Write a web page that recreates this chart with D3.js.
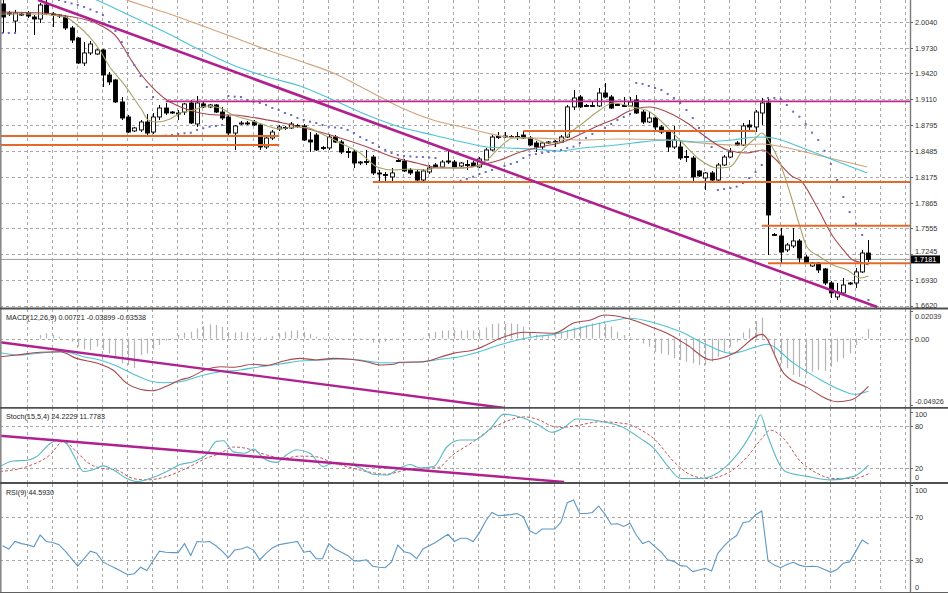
<!DOCTYPE html>
<html><head><meta charset="utf-8">
<script src="https://cdn.jsdelivr.net/npm/d3@7"></script>
<style>body{margin:0;background:#fff}svg{display:block}text{font-family:"Liberation Sans",Arial,sans-serif}</style>
</head><body><svg id="c" width="948" height="593"></svg>
<script>
// ---------- DATA ----------
const opens=[2.0257,2.0148,2.0052,2.0136,2.0148,2.0100,2.0076,2.0245,2.0136,2.0124,
2.0100,1.9968,1.9847,1.9546,1.9667,1.9655,1.9703,1.9402,1.9342,1.9077,
1.8896,1.8728,1.8740,1.8836,1.8715,1.8896,1.9004,1.8956,1.8944,1.8956,
1.9065,1.8812,1.9053,1.9017,1.9041,1.8956,1.8896,1.8703,1.8818,1.8824,
1.8836,1.8800,1.8535,1.8643,1.8752,1.8770,1.8764,1.8794,1.8788,1.8619,
1.8679,1.8529,1.8523,1.8655,1.8595,1.8481,1.8475,1.8342,1.8360,1.8414,
1.8222,1.8204,1.8174,1.8372,1.8366,1.8258,1.8234,1.8137,1.8234,1.8318,
1.8294,1.8366,1.8354,1.8306,1.8324,1.8342,1.8294,1.8378,1.8499,1.8655,
1.8667,1.8661,1.8655,1.8679,1.8643,1.8583,1.8535,1.8589,1.8595,1.8595,
1.8655,1.9017,1.9137,1.9035,1.9029,1.9029,1.9185,1.9137,1.9047,1.9035,
1.9029,1.9101,1.8956,1.8836,1.8884,1.8776,1.8715,1.8535,1.8535,1.8420,
1.8402,1.8246,1.8161,1.8222,1.8137,1.8318,1.8414,1.8583,1.8559,1.8800,
1.8776,1.8944,1.9065,1.7481,1.7463,1.7295,1.7343,1.7403,1.7210,1.7102,
1.7138,1.7066,1.6897,1.6729,1.6777,1.6891,1.6897,1.7030,1.7258];
const highs=[2.0305,2.0173,2.0185,2.0161,2.0173,2.0124,2.0269,2.0305,2.0161,2.0136,
2.0124,1.9992,1.9859,1.9799,1.9811,1.9715,1.9715,1.9438,1.9354,1.9137,
1.8920,1.8776,1.8860,1.8932,1.8944,1.9041,1.9065,1.8968,1.8980,1.9065,
1.9101,1.9149,1.9077,1.9053,1.9053,1.9017,1.8920,1.8800,1.8848,1.8848,
1.8860,1.8824,1.8667,1.8740,1.8800,1.8788,1.8836,1.8812,1.8812,1.8715,
1.8703,1.8547,1.8691,1.8679,1.8619,1.8523,1.8499,1.8366,1.8499,1.8439,
1.8258,1.8234,1.8282,1.8390,1.8390,1.8282,1.8258,1.8270,1.8318,1.8342,
1.8378,1.8487,1.8378,1.8354,1.8378,1.8366,1.8414,1.8523,1.8679,1.8715,
1.8715,1.8679,1.8715,1.8728,1.8667,1.8607,1.8595,1.8607,1.8619,1.8679,
1.9041,1.9221,1.9161,1.9053,1.9077,1.9245,1.9306,1.9161,1.9065,1.9137,
1.9137,1.9161,1.8980,1.8956,1.8896,1.8800,1.8728,1.8788,1.8619,1.8499,
1.8426,1.8258,1.8234,1.8246,1.8342,1.8439,1.8523,1.8607,1.8824,1.8860,
1.8980,1.9125,1.9113,1.7499,1.7560,1.7379,1.7560,1.7427,1.7234,1.7150,
1.7150,1.7078,1.6921,1.6897,1.6957,1.6909,1.7078,1.7295,1.7415];
const lows=[1.9908,2.0112,1.9920,2.0112,2.0088,1.9884,2.0028,2.0124,1.9980,2.0088,
1.9944,1.9787,1.9534,1.9510,1.9643,1.9643,1.9257,1.9281,1.9065,1.8860,
1.8703,1.8715,1.8715,1.8679,1.8691,1.8860,1.8920,1.8932,1.8860,1.8920,
1.8812,1.8776,1.9004,1.9004,1.8944,1.8860,1.8655,1.8499,1.8800,1.8800,
1.8788,1.8499,1.8511,1.8619,1.8728,1.8740,1.8752,1.8764,1.8607,1.8475,
1.8487,1.8499,1.8499,1.8583,1.8451,1.8402,1.8282,1.8318,1.8318,1.8198,
1.8113,1.8113,1.8113,1.8354,1.8234,1.8198,1.8125,1.8125,1.8210,1.8282,
1.8282,1.8330,1.8282,1.8294,1.8258,1.8294,1.8282,1.8366,1.8487,1.8631,
1.8643,1.8643,1.8619,1.8631,1.8547,1.8475,1.8511,1.8571,1.8535,1.8583,
1.8643,1.8980,1.9004,1.9017,1.9017,1.9017,1.9125,1.8992,1.9029,1.9017,
1.9017,1.8932,1.8812,1.8824,1.8740,1.8691,1.8475,1.8511,1.8378,1.8354,
1.8113,1.8174,1.8017,1.8125,1.8125,1.8306,1.8402,1.8547,1.8547,1.8740,
1.8715,1.8800,1.7234,1.7463,1.7138,1.7270,1.7319,1.7138,1.7126,1.7090,
1.7018,1.6873,1.6716,1.6692,1.6741,1.6873,1.6837,1.7018,1.7150];
const closes=[2.0100,2.0136,2.0148,2.0124,2.0112,2.0076,2.0245,2.0148,2.0124,2.0112,
1.9968,1.9823,1.9546,1.9667,1.9775,1.9703,1.9402,1.9318,1.9077,1.8884,
1.8715,1.8764,1.8836,1.8703,1.8896,1.9004,1.8944,1.8944,1.8938,1.9053,
1.8824,1.9065,1.9017,1.9041,1.8956,1.8884,1.8703,1.8788,1.8824,1.8818,
1.8800,1.8535,1.8643,1.8715,1.8776,1.8764,1.8812,1.8788,1.8619,1.8595,
1.8499,1.8523,1.8655,1.8595,1.8475,1.8475,1.8342,1.8354,1.8354,1.8222,
1.8216,1.8198,1.8222,1.8366,1.8246,1.8222,1.8137,1.8246,1.8282,1.8294,
1.8354,1.8354,1.8294,1.8342,1.8318,1.8306,1.8390,1.8499,1.8655,1.8661,
1.8661,1.8655,1.8661,1.8643,1.8559,1.8535,1.8583,1.8595,1.8601,1.8655,
1.9017,1.9125,1.9017,1.9029,1.9035,1.9185,1.9137,1.9004,1.9041,1.9029,
1.9077,1.8944,1.8836,1.8884,1.8776,1.8715,1.8535,1.8619,1.8402,1.8414,
1.8174,1.8186,1.8222,1.8137,1.8318,1.8414,1.8475,1.8559,1.8788,1.8776,
1.8956,1.9065,1.7716,1.7475,1.7270,1.7355,1.7403,1.7198,1.7138,1.7138,
1.7054,1.6897,1.6777,1.6789,1.6873,1.6897,1.7030,1.7258,1.7181];
// Parabolic SAR (null = off chart)
const sar=[1.9908,1.9908,1.9908,null,null,null,null,null,null,2.0305,
2.0281,2.0263,2.0245,2.0221,2.0191,2.0161,2.0124,2.0040,1.9932,1.9799,
1.9667,1.9522,1.9390,1.9257,1.9137,1.8667,1.8673,1.8679,1.8691,1.8700,
1.8707,1.8740,1.8760,1.8779,1.8788,1.8800,1.9149,1.9141,1.9137,1.9101,
1.9080,1.9065,1.9041,1.9004,1.8980,1.8944,1.8920,1.8884,1.8860,1.8839,
1.8824,1.8800,1.8779,1.8770,1.8764,1.8740,1.8703,1.8655,1.8619,1.8583,
1.8535,1.8499,1.8463,1.8439,1.8427,1.8421,1.8414,1.8414,1.8408,1.8402,
1.8113,1.8113,1.8117,1.8129,1.8149,1.8177,1.8210,1.8234,1.8258,1.8282,
1.8306,1.8330,1.8354,1.8402,1.8439,1.8451,1.8463,1.8475,1.8487,1.8499,
1.8523,1.8538,1.8583,1.8643,1.8691,1.8728,1.8764,1.8812,1.8860,1.8896,
1.8932,1.9306,1.9294,1.9269,1.9245,1.9221,1.9173,1.9125,1.9065,1.8980,
1.8884,1.8764,1.8655,1.8535,1.8017,1.8029,1.8041,1.8057,1.8101,1.8161,
1.8234,1.8318,1.9125,1.9125,1.9113,1.9041,1.8960,1.8900,1.8812,1.8707,
1.8619,1.8490,1.8330,1.8137,1.7933,1.7752,1.7608,1.7475,1.6692];
// Moving averages: [bar index, price]
const maFast=[[-0.4,2.0136],[5.5,2.0136],[7.6,2.0124],[10,2.0100],[11.9,2.0004],[13.9,1.9859],[15.5,1.9703],[17.1,1.9498],[19.2,1.9306],[20.8,1.9137],[22.2,1.8980],[23.2,1.8860],[24.6,1.8836],[26.7,1.8872],[28.3,1.8944],[30.4,1.8980],[32.6,1.9029],[34.7,1.9004],[36.7,1.8920],[39.4,1.8860],[42.2,1.8788],[44.2,1.8752],[46.3,1.8776],[48.5,1.8770],[50.6,1.8703],[53.8,1.8583],[57,1.8463],[59.7,1.8294],[62.2,1.8258],[64.9,1.8270],[67.6,1.8258],[69.7,1.8294],[72.9,1.8282],[75,1.8294],[77.2,1.8378],[79.3,1.8535],[81.4,1.8643],[84.1,1.8643],[86.8,1.8583],[88.8,1.8595],[90.4,1.8703],[92.5,1.8824],[95.2,1.8980],[97.3,1.9065],[100.5,1.9017],[103.2,1.8956],[105.9,1.8776],[108.4,1.8583],[111.2,1.8378],[113.9,1.8282],[115.9,1.8294],[118,1.8499],[120.2,1.8655],[121,1.8703],[122.3,1.8583],[123.9,1.8342],[125.5,1.7981],[127.1,1.7572],[128.2,1.7331],[130.3,1.7210],[132.4,1.7114],[134.6,1.7054],[136.7,1.6957],[138,1.6981]];
const maMid=[[-0.4,2.0161],[6.5,2.0148],[10.3,2.0112],[15.5,2.0004],[18.2,1.9859],[20.3,1.9607],[21.9,1.9426],[24,1.9245],[26.2,1.9101],[28.8,1.9004],[31.5,1.8944],[34.2,1.8920],[36.7,1.8920],[39.4,1.8896],[42.2,1.8860],[44.7,1.8824],[47.4,1.8776],[50.6,1.8715],[53.8,1.8643],[58.1,1.8535],[62.2,1.8414],[66,1.8342],[69.7,1.8282],[72.9,1.8282],[76.1,1.8318],[79.3,1.8378],[82.5,1.8475],[85.7,1.8535],[89.3,1.8595],[92.5,1.8703],[95.2,1.8800],[97.9,1.8884],[99.5,1.8956],[103.2,1.9017],[105.9,1.8956],[109.1,1.8824],[112.3,1.8643],[115.5,1.8499],[118.6,1.8463],[121.2,1.8499],[122.8,1.8414],[126,1.8174],[127.1,1.8137],[129.8,1.7812],[132.4,1.7451],[134,1.7295],[135.5,1.7174],[137.1,1.7138],[138,1.7114]];
const maSlow=[[13.1,2.0365],[15,2.0305],[20.8,2.0100],[26.2,1.9908],[31.5,1.9703],[36.7,1.9522],[42.2,1.9378],[47.4,1.9269],[52.7,1.9101],[58.1,1.8920],[63.3,1.8776],[68.6,1.8679],[74,1.8583],[77.2,1.8535],[80.4,1.8523],[84.5,1.8511],[88.8,1.8487],[92.5,1.8523],[97.9,1.8559],[100.5,1.8583],[105.9,1.8619],[111.2,1.8595],[116.4,1.8619],[120.2,1.8655],[122.8,1.8643],[127.1,1.8535],[132.4,1.8378],[137.8,1.8222]];
const maSlowest=[[17.9,2.0365],[19.8,2.0305],[26.2,2.0148],[31.5,2.0004],[36.7,1.9859],[42.2,1.9703],[47.4,1.9570],[52.7,1.9426],[58.1,1.9221],[63.3,1.9017],[68.6,1.8860],[74,1.8764],[77.2,1.8703],[80.4,1.8655],[84.5,1.8643],[88.8,1.8631],[92.5,1.8619],[97.9,1.8631],[105.9,1.8619],[111.2,1.8583],[116.4,1.8559],[121.2,1.8571],[124.4,1.8535],[129.8,1.8439],[137.8,1.8294]];
// MACD
const macdHist=[0,0,0,0,0,0,0.0026,0.0039,0.0026,0.0013,
0,-0.0024,-0.006,-0.008,-0.0085,-0.006,-0.0085,-0.011,-0.0147,-0.0184,
-0.0196,-0.022,-0.0122,-0.011,-0.008,-0.0048,-0.0016,0.0005,0.0026,0.0043,
0.005,0.0075,0.0093,0.0105,0.01,0.0087,0.005,0.0045,0.005,0.0045,
0.0013,0.0008,0.0008,0.0018,0.0038,0.005,0.0058,0.006,0.005,0.0033,
0.0013,0.0008,0.0013,0.0008,0.0003,-0.0003,-0.0007,-0.0003,-0.0007,-0.0031,
-0.0036,-0.0024,-0.0012,0.0003,0,0,0,0.0008,0.0038,0.005,
0.0058,0.006,0.0065,0.006,0.006,0.006,0.0063,0.0083,0.0107,0.0112,
0.0107,0.0112,0.0107,0.0088,0.005,0.003,0.002,0.003,0.0045,0.005,
0.0065,0.0083,0.009,0.01,0.0112,0.0117,0.0107,0.0088,0.005,0.0026,
0.0008,-0.0003,-0.0036,-0.006,-0.0098,-0.011,-0.0122,-0.0147,-0.016,-0.0172,
-0.0184,-0.0196,-0.0196,-0.0172,-0.0135,-0.0098,-0.006,-0.0024,0.0045,0.0075,
0.013,0.0155,-0.0036,-0.011,-0.0184,-0.022,-0.027,-0.0284,-0.0263,-0.0246,
-0.0234,-0.024,-0.021,-0.0172,-0.0147,-0.011,-0.0048,0.0013,0.0072];
const macdMain=[[-0.4,-0.0135],[2.3,-0.0122],[6,-0.0102],[9.2,-0.0098],[11.8,-0.0147],[15.5,-0.0189],[17.6,-0.0233],[19.8,-0.0332],[21.9,-0.0376],[23.8,-0.0387],[26.2,-0.0352],[28.3,-0.0307],[29.9,-0.0287],[32.5,-0.0228],[34.7,-0.0209],[36.8,-0.0213],[40,-0.0191],[42.1,-0.0199],[44.8,-0.0167],[47.4,-0.0147],[50,-0.0159],[52.7,-0.0147],[55.4,-0.0154],[58,-0.0172],[60.2,-0.0196],[62.3,-0.0191],[63.3,-0.0176],[67,-0.0172],[69.7,-0.0139],[71.8,-0.011],[75.1,-0.0085],[80,0.0013],[83.1,0.0046],[87.9,0.0039],[91.1,0.0117],[93.7,0.0137],[95.9,0.0174],[99.5,0.015],[103.3,0.0087],[105.9,0.0039],[109.1,-0.0048],[112.9,-0.0159],[116.6,-0.011],[121,0.0031],[124.5,-0.0258],[128.2,-0.0362],[133,-0.0468],[135.2,-0.0456],[138,-0.0354]];
const macdSignal=[[-0.4,-0.0105],[2.8,-0.0122],[6.5,-0.0105],[9.7,-0.0098],[12.9,-0.0135],[15.5,-0.0159],[18.2,-0.0204],[20.8,-0.0263],[23.5,-0.0315],[25.6,-0.0328],[28.3,-0.032],[31.5,-0.0278],[34.7,-0.0246],[37.9,-0.0233],[41,-0.0209],[44.2,-0.0189],[47.4,-0.0167],[50.6,-0.0159],[53.8,-0.0152],[57,-0.0159],[60.2,-0.0179],[63.3,-0.0179],[66.5,-0.0174],[69.7,-0.0154],[72.9,-0.0135],[75.1,-0.011],[80.4,-0.0031],[84.7,0.0013],[87.9,0.0031],[91.1,0.0068],[96.3,0.0124],[100.1,0.015],[103.8,0.0117],[108.1,0.005],[112.3,-0.0048],[116.1,-0.011],[120.2,-0.0061],[121.8,-0.0043],[126.1,-0.0184],[130.4,-0.0307],[133.6,-0.0382],[135.7,-0.0413],[138,-0.0390]];
// Stochastic
const stochMain=[[-0.4,22],[1.7,30],[3.9,31],[5.4,36],[7.6,55],[8.9,60],[10.2,55],[11.6,34],[12.9,15],[14.2,17],[16.1,23],[17.7,17],[19.8,5],[21.4,0.5],[23.5,5],[26.2,15],[28.3,25],[30.4,29],[32.5,39],[34.1,58],[35.2,59],[36.8,43],[38.6,41],[40,47],[41.6,34],[43.7,28],[45.3,39],[46.9,46],[49,41],[51.1,22],[52.7,27],[54.9,26],[57,20],[59.1,11],[61.2,10],[63.3,20],[65,25],[66.5,20],[68.7,22],[70.8,50],[72.9,60],[75.1,60],[77.8,77],[79.9,97],[83.1,91],[85.7,80],[87.5,71],[89.5,78],[91.5,90],[93.7,89],[96.3,85],[98.4,80],[101.7,62],[103.8,48],[105.9,24],[108.1,5],[111.3,5],[113.4,10],[116.1,29],[118.2,53],[120,81],[120.8,96],[121.9,67],[124.8,15],[128.2,8],[132,3],[135.7,8],[138,24.2]];
const stochSignal=[[-0.4,15],[3.9,22],[7.6,39],[9.7,58],[11.8,43],[13.4,29],[15.5,20],[18.2,17],[20.8,5],[23,3],[26.2,8],[29.4,20],[32.5,34],[34.7,41],[36.8,50],[38.9,48],[41.6,40],[44.8,34],[47.4,37],[50.1,36],[52.2,29],[54.9,22],[58,15],[61.2,11],[63.3,15],[66.5,20],[69.2,20],[71.8,39],[75.1,58],[77.7,75],[79.9,85],[83.1,93],[85.7,88],[87.5,80],[89.2,78],[91.1,80],[95.3,86],[99.5,83],[101.6,75],[103.8,62],[107,29],[109.7,10],[112.3,5],[116,15],[118.7,36],[120.8,60],[122.4,74],[124.5,62],[127.2,29],[129.3,15],[132.5,5],[135.7,5],[138,11.8]];
// RSI(9) per bar
const rsi=[43,40,47,45,44,42,53,47,46,44,
38,31,24,31,38,36,28,25,22,19,
16,17,23,20,29,38,37,36.6,36.6,45,
34,47,46.5,47,43,38,32,39,40,42,
39,30,36,41,44,45,46,47,37,38,
31,31,45,40,37,34,29,29,30,24,
23,22.6,28,43.7,37.5,36,31,40,43,46,
50,53.7,47,50,50,47,55,66,74,71,
71.5,72,73,70,57,54,58.6,58.6,58.6,65,
83,85.6,73,73,74,80,72.5,63,63.5,61,
64,53,45,47.4,42,37,30,28.5,24.5,24,
19,20.5,22,19.5,36,43,48.5,52.5,64.5,65.5,
71.6,75.3,28.8,25,22.6,25.5,27.6,25,23.5,24,
23.5,21,18.3,21,26.7,28,38,48.4,44.6];
// objects
const trendMain=[[5.66,2.0305],[139.4,1.6608]];
const trendMacd=[[-0.4,-0.0028],[80,-0.0515]];
const trendStoch=[[-0.4,66.1],[89.5,0]];
const orangeLevels=[1.8667,1.8559,1.8728,1.8113,1.7587,1.7134];
const orangeFrom=[-0.4,-0.4,83,59,121,122];
const orangeTo=[44.1,44.1,120,146,146,146];
const magentaLevel=1.9083, magentaFrom=26, magentaTo=146;
const bidPrice=1.7181;
const priceTicks=["2.0040","1.9730","1.9420","1.9110","1.8795","1.8485","1.8175","1.7865","1.7555","1.7245","1.6930","1.6620"];
const macdTicks=["0.02039","0.00","-0.04926"];
const stochTicks=["100","80","20","0"];
const rsiTicks=["100","70","30","0"];
const labelMacd="MACD(12,26,9) 0.00721 -0.03899 -0.03538";
const labelStoch="Stoch(15,5,4) 24.2229 11.7783";
const labelRsi="RSI(9) 44.5930";

// ---------- DRAW ----------
const svg=d3.select('#c');
const AX=910;
const x=d3.scaleLinear().domain([0,138]).range([2.5,868.45]);
const yP=d3.scaleLinear().domain([1.6620,2.0040]).range([306,22]);
const yM=d3.scaleLinear().domain([-0.04926,0.02039]).range([405,311]);
const yS=d3.scaleLinear().domain([0,100]).range([482,412]);
const yR=d3.scaleLinear().domain([0,100]).range([592,484.5]);
const panels=[{id:'pm',t:0,b:308},{id:'pd',t:309,b:407},{id:'ps',t:408,b:482},{id:'pr',t:484,b:593}];
const defs=svg.append('defs');
panels.forEach(p=>defs.append('clipPath').attr('id',p.id).append('rect').attr('x',0).attr('y',p.t).attr('width',AX).attr('height',p.b-p.t));
const G={};
panels.forEach(p=>G[p.id]=svg.append('g').attr('clip-path',`url(#${p.id})`));
const gridCol='#a8a8a8', dash='3,3';
// vertical grid
const vg=d3.range(4,146,4);
panels.forEach(p=>{
  G[p.id].selectAll('line.vg').data(vg).join('line').attr('class','vg')
   .attr('x1',d=>Math.round(x(d))-0.5).attr('x2',d=>Math.round(x(d))-0.5)
   .attr('y1',p.t).attr('y2',p.b).attr('stroke',gridCol).attr('stroke-dasharray',dash).attr('stroke-width',1);
});
function hgrid(g,vals,sc){g.selectAll(null).data(vals).join('line').attr('x1',0).attr('x2',AX)
  .attr('y1',d=>Math.round(sc(d))+0.5).attr('y2',d=>Math.round(sc(d))+0.5).attr('stroke',gridCol).attr('stroke-dasharray',dash);}
hgrid(G.pm,priceTicks.map(Number),yP);
hgrid(G.pd,[0],yM);
hgrid(G.ps,[80,20],yS);
hgrid(G.pr,[70,30],yR);

// bid line
G.pm.append('line').attr('x1',0).attr('x2',AX).attr('y1',yP(bidPrice)).attr('y2',yP(bidPrice)).attr('stroke','#9a9a9a').attr('stroke-width',1);

// candles
const idx=d3.range(opens.length);
const cg=G.pm.append('g');
cg.selectAll('line.w').data(idx).join('line').attr('class','w')
  .attr('x1',i=>Math.round(x(i))+0.5).attr('x2',i=>Math.round(x(i))+0.5)
  .attr('y1',i=>yP(highs[i])).attr('y2',i=>yP(lows[i])).attr('stroke','#000').attr('stroke-width',1);
cg.selectAll('rect.b').data(idx).join('rect').attr('class','b')
  .attr('x',i=>Math.round(x(i))-1.5).attr('width',4)
  .attr('y',i=>yP(Math.max(opens[i],closes[i])))
  .attr('height',i=>Math.max(1,Math.abs(yP(opens[i])-yP(closes[i]))))
  .attr('fill',i=>closes[i]>=opens[i]?'#fff':'#000').attr('stroke','#000').attr('stroke-width',0.9);

// moving averages
const lineP=d3.line().x(d=>x(d[0])).y(d=>yP(d[1])).curve(d3.curveMonotoneX);
[[maSlowest,'#d2a27a'],[maSlow,'#4cc4d4'],[maMid,'#a8484c'],[maFast,'#a8a468']].forEach(([d,c])=>{
  G.pm.append('path').datum(d).attr('d',lineP).attr('fill','none').attr('stroke',c).attr('stroke-width',1.1);
});
// SAR
G.pm.selectAll('rect.sar').data(idx.filter(i=>sar[i]!=null)).join('rect').attr('class','sar')
  .attr('x',i=>x(i)-1).attr('y',i=>yP(sar[i])-1).attr('width',2).attr('height',2).attr('fill','#6b6bc6');

// horizontal objects
G.pm.selectAll('line.or').data(orangeLevels).join('line').attr('class','or')
  .attr('x1',(d,i)=>x(orangeFrom[i])).attr('x2',(d,i)=>x(orangeTo[i]))
  .attr('y1',d=>yP(d)).attr('y2',d=>yP(d)).attr('stroke','#e46a2c').attr('stroke-width',2);
G.pm.append('line').attr('x1',x(magentaFrom)).attr('x2',x(magentaTo)).attr('y1',yP(magentaLevel)).attr('y2',yP(magentaLevel))
  .attr('stroke','#c0268c').attr('stroke-width',1.8);
// trend lines
const tcol='#b0208e';
G.pm.append('line').attr('x1',x(trendMain[0][0])).attr('y1',yP(trendMain[0][1])).attr('x2',x(trendMain[1][0])).attr('y2',yP(trendMain[1][1])).attr('stroke',tcol).attr('stroke-width',2.6);

// MACD
G.pd.selectAll('line.h').data(idx).join('line').attr('class','h')
  .attr('x1',i=>Math.round(x(i))+0.5).attr('x2',i=>Math.round(x(i))+0.5)
  .attr('y1',yM(0)).attr('y2',i=>yM(macdHist[i])).attr('stroke','#b4b4b4').attr('stroke-width',1.2);
const lineM=d3.line().x(d=>x(d[0])).y(d=>yM(d[1])).curve(d3.curveMonotoneX);
G.pd.append('path').datum(macdSignal).attr('d',lineM).attr('fill','none').attr('stroke','#4ec2d2').attr('stroke-width',1.1);
G.pd.append('path').datum(macdMain).attr('d',lineM).attr('fill','none').attr('stroke','#a8484c').attr('stroke-width',1.1);
G.pd.append('line').attr('x1',x(trendMacd[0][0])).attr('y1',yM(trendMacd[0][1])).attr('x2',x(trendMacd[1][0])).attr('y2',yM(trendMacd[1][1])).attr('stroke',tcol).attr('stroke-width',2.4);

// Stoch
const lineS=d3.line().x(d=>x(d[0])).y(d=>yS(d[1])).curve(d3.curveMonotoneX);
G.ps.append('path').datum(stochSignal).attr('d',lineS).attr('fill','none').attr('stroke','#c05a5a').attr('stroke-width',1).attr('stroke-dasharray','3,2');
G.ps.append('path').datum(stochMain).attr('d',lineS).attr('fill','none').attr('stroke','#5cb8c4').attr('stroke-width',1.1);
G.ps.append('line').attr('x1',x(trendStoch[0][0])).attr('y1',yS(trendStoch[0][1])).attr('x2',x(trendStoch[1][0])).attr('y2',yS(trendStoch[1][1])).attr('stroke',tcol).attr('stroke-width',2.4);

// RSI
const lineR=d3.line().x((d,i)=>x(i)).y(d=>yR(d));
G.pr.append('path').datum(rsi).attr('d',lineR).attr('fill','none').attr('stroke','#5e98c4').attr('stroke-width',1.1);

// frames
svg.append('line').attr('x1',AX+0.5).attr('x2',AX+0.5).attr('y1',0).attr('y2',593).attr('stroke','#7a7a7a').attr('stroke-width',1.4);
svg.append('line').attr('x1',0.8).attr('x2',0.8).attr('y1',0).attr('y2',593).attr('stroke','#8a8a8a').attr('stroke-width',1.6);
[308.5,407.8,483].forEach(y=>svg.append('line').attr('x1',0).attr('x2',948).attr('y1',y).attr('y2',y).attr('stroke','#505050').attr('stroke-width',1.8));
svg.append('line').attr('x1',0).attr('x2',948).attr('y1',592.5).attr('y2',592.5).attr('stroke','#606060').attr('stroke-width',1);

// axis labels
const fs='7.3px', tc='#333';
const by=yP(bidPrice);
function axisLabels(vals,sc,clampT,clampB,avoid){
  vals.forEach(v=>{
    const yy=Math.round(sc(+v));
    svg.append('line').attr('x1',AX).attr('x2',AX+3).attr('y1',yy+0.5).attr('y2',yy+0.5).attr('stroke','#666');
    let ty=Math.max(clampT,Math.min(clampB,yy));
    if(avoid!=null && Math.abs(ty-avoid)<9) ty=avoid-8.5;
    svg.append('text').attr('x',915).attr('y',ty+2.6).attr('font-size',fs).attr('fill',tc).text(v);
  });
}
axisLabels(priceTicks,yP,4,305,by);
axisLabels(macdTicks,yM,316,401,null);
axisLabels(stochTicks,yS,414,477,null);
axisLabels(rsiTicks,yR,490,587,null);
// bid price marker
svg.append('rect').attr('x',AX+1).attr('y',by-4).attr('width',29).attr('height',8).attr('fill','#000');
svg.append('text').attr('x',914).attr('y',by+2.6).attr('font-size',fs).attr('fill','#fff').text(bidPrice.toFixed(4));

// indicator titles
svg.append('text').attr('x',6).attr('y',319.5).attr('font-size','7.4px').attr('fill','#222').attr('textLength',140).attr('lengthAdjust','spacingAndGlyphs').text(labelMacd);
svg.append('text').attr('x',6).attr('y',418.5).attr('font-size','7.4px').attr('fill','#222').attr('textLength',99).attr('lengthAdjust','spacingAndGlyphs').text(labelStoch);
svg.append('text').attr('x',6).attr('y',494.5).attr('font-size','7.4px').attr('fill','#222').attr('textLength',48).attr('lengthAdjust','spacingAndGlyphs').text(labelRsi);
</script></body></html>
